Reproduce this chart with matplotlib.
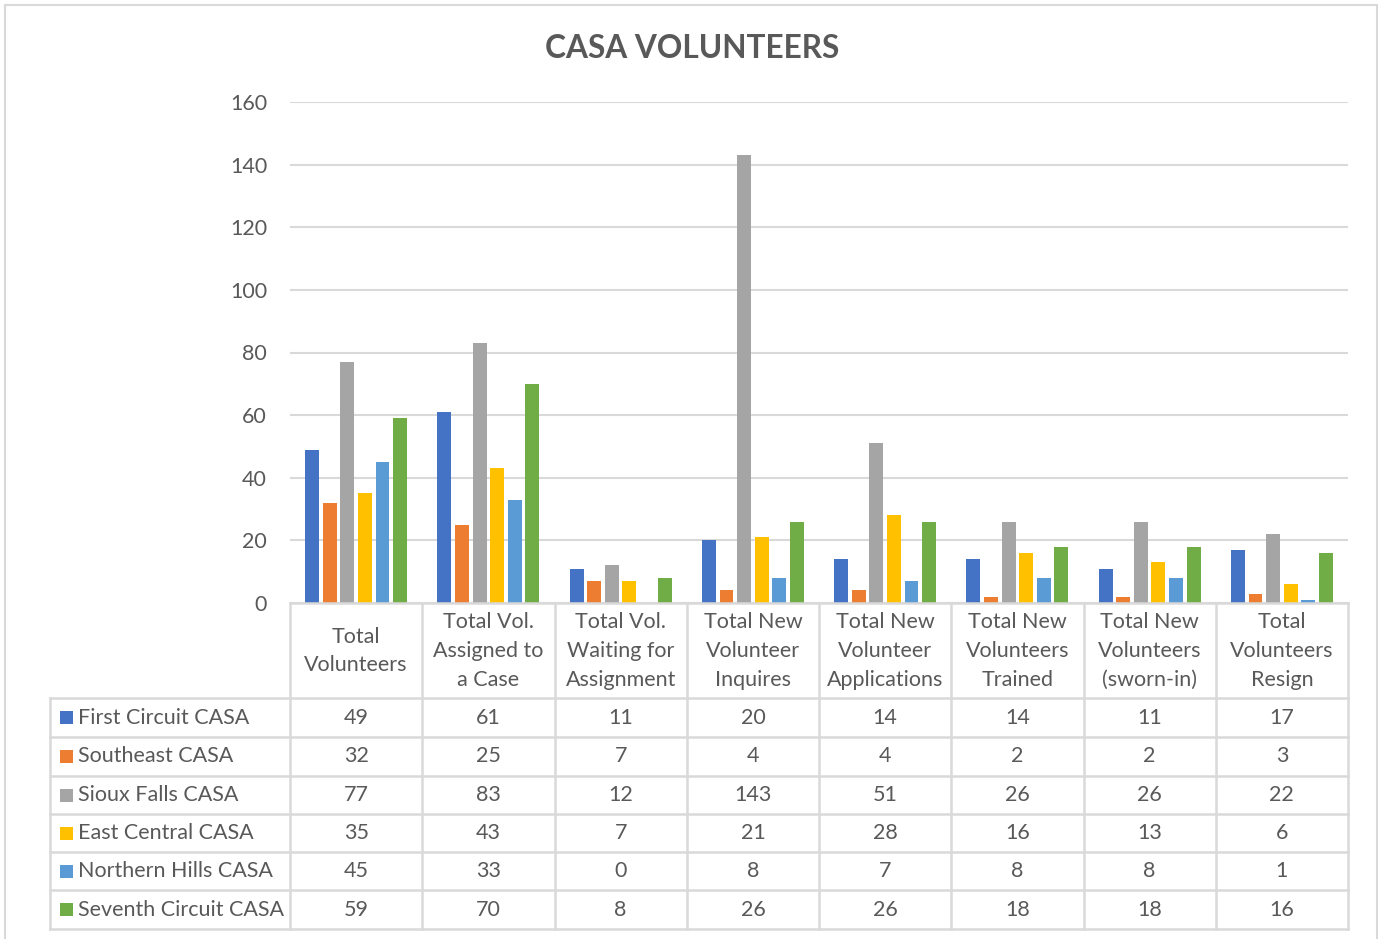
import matplotlib
matplotlib.use("Agg")
import matplotlib.pyplot as plt
from matplotlib.patches import Rectangle
import numpy as np

plt.rcParams['font.family'] = ['Lato', 'DejaVu Sans']

categories = ["Total\nVolunteers", "Total Vol.\nAssigned to\na Case", "Total Vol.\nWaiting for\nAssignment",
              "Total New\nVolunteer\nInquires", "Total New\nVolunteer\nApplications", "Total New\nVolunteers\nTrained",
              "Total New\nVolunteers\n(sworn-in)", "Total\nVolunteers\nResign"]
series_names = ["First Circuit CASA", "Southeast CASA", "Sioux Falls CASA",
                "East Central CASA", "Northern Hills CASA", "Seventh Circuit CASA"]
first_circuit = [49, 61, 11, 20, 14, 14, 11, 17]
southeast = [32, 25, 7, 4, 4, 2, 2, 3]
sioux_falls = [77, 83, 12, 143, 51, 26, 26, 22]
east_central = [35, 43, 7, 21, 28, 16, 13, 6]
northern_hills = [45, 33, 0, 8, 7, 8, 8, 1]
seventh_circuit = [59, 70, 8, 26, 26, 18, 18, 16]
all_series = [first_circuit, southeast, sioux_falls, east_central, northern_hills, seventh_circuit]
colors = ["#4472C4", "#ED7D31", "#A5A5A5", "#FFC000", "#5B9BD5", "#70AD47"]

W, H = 1384, 939
fig = plt.figure(figsize=(W / 100, H / 100), dpi=100)
txt = "#595959"
gridc = "#D9D9D9"

def fx(px):
    return px / W

def fy(py):
    return 1 - py / H

# outer frame
fig.add_artist(Rectangle((fx(5), fy(945)), fx(1372), 940 / H, transform=fig.transFigure,
                         fill=False, edgecolor=gridc, lw=1.5))

ax_l, ax_r, ax_t, ax_b = 290, 1348, 102, 603
ax = fig.add_axes([fx(ax_l), fy(ax_b), fx(ax_r - ax_l), (ax_b - ax_t) / H])
x = np.arange(len(categories))
step = 0.133
bw = 0.105
for i, (vals, c) in enumerate(zip(all_series, colors)):
    ax.bar(x + (i - 2.5) * step, vals, bw, color=c, zorder=3)
ax.set_xlim(-0.5, len(categories) - 0.5)
ax.set_ylim(0, 160)
ax.set_yticks(range(0, 161, 20))
ax.yaxis.grid(True, color=gridc, lw=1.5, zorder=0)
ax.set_xticks([])
for s in ax.spines.values():
    s.set_visible(False)
ax.tick_params(axis='y', length=0, pad=16.5, labelsize=15.5, labelcolor=txt)

fig.text(0.5, fy(49), "CASA VOLUNTEERS", ha='center', va='center', fontsize=22.8,
         fontweight='bold', color=txt)

# data table
col_x = [ax_l + k * (ax_r - ax_l) / len(categories) for k in range(len(categories) + 1)]
row_y = [603, 698, 737, 776, 814, 852, 890, 929]
lw = 1.8
fig.add_artist(plt.Line2D([fx(ax_l), fx(ax_r)], [fy(603), fy(603)], color=gridc, lw=lw))
for yy in row_y[1:]:
    fig.add_artist(plt.Line2D([fx(50), fx(ax_r)], [fy(yy), fy(yy)], color=gridc, lw=lw))
for xx in col_x:
    fig.add_artist(plt.Line2D([fx(xx), fx(xx)], [fy(603), fy(929)], color=gridc, lw=lw))
fig.add_artist(plt.Line2D([fx(50), fx(50)], [fy(698), fy(929)], color=gridc, lw=lw))

for j, cat in enumerate(categories):
    cx = (col_x[j] + col_x[j + 1]) / 2
    fig.text(fx(cx), fy(651), cat, ha='center', va='center', fontsize=15.5, color=txt,
             linespacing=1.55)

for i, (name, vals, c) in enumerate(zip(series_names, all_series, colors)):
    cy = (row_y[i + 1] + row_y[i + 2]) / 2
    fig.add_artist(Rectangle((fx(60), fy(cy + 6.5)), fx(13), 13 / H, transform=fig.transFigure,
                             facecolor=c, edgecolor='none'))
    fig.text(fx(78), fy(cy), name, ha='left', va='center', fontsize=15.5, color=txt)
    for j, v in enumerate(vals):
        cx = (col_x[j] + col_x[j + 1]) / 2
        fig.text(fx(cx), fy(cy), str(v), ha='center', va='center', fontsize=15.5, color=txt)

fig.savefig("out.png", dpi=100)
